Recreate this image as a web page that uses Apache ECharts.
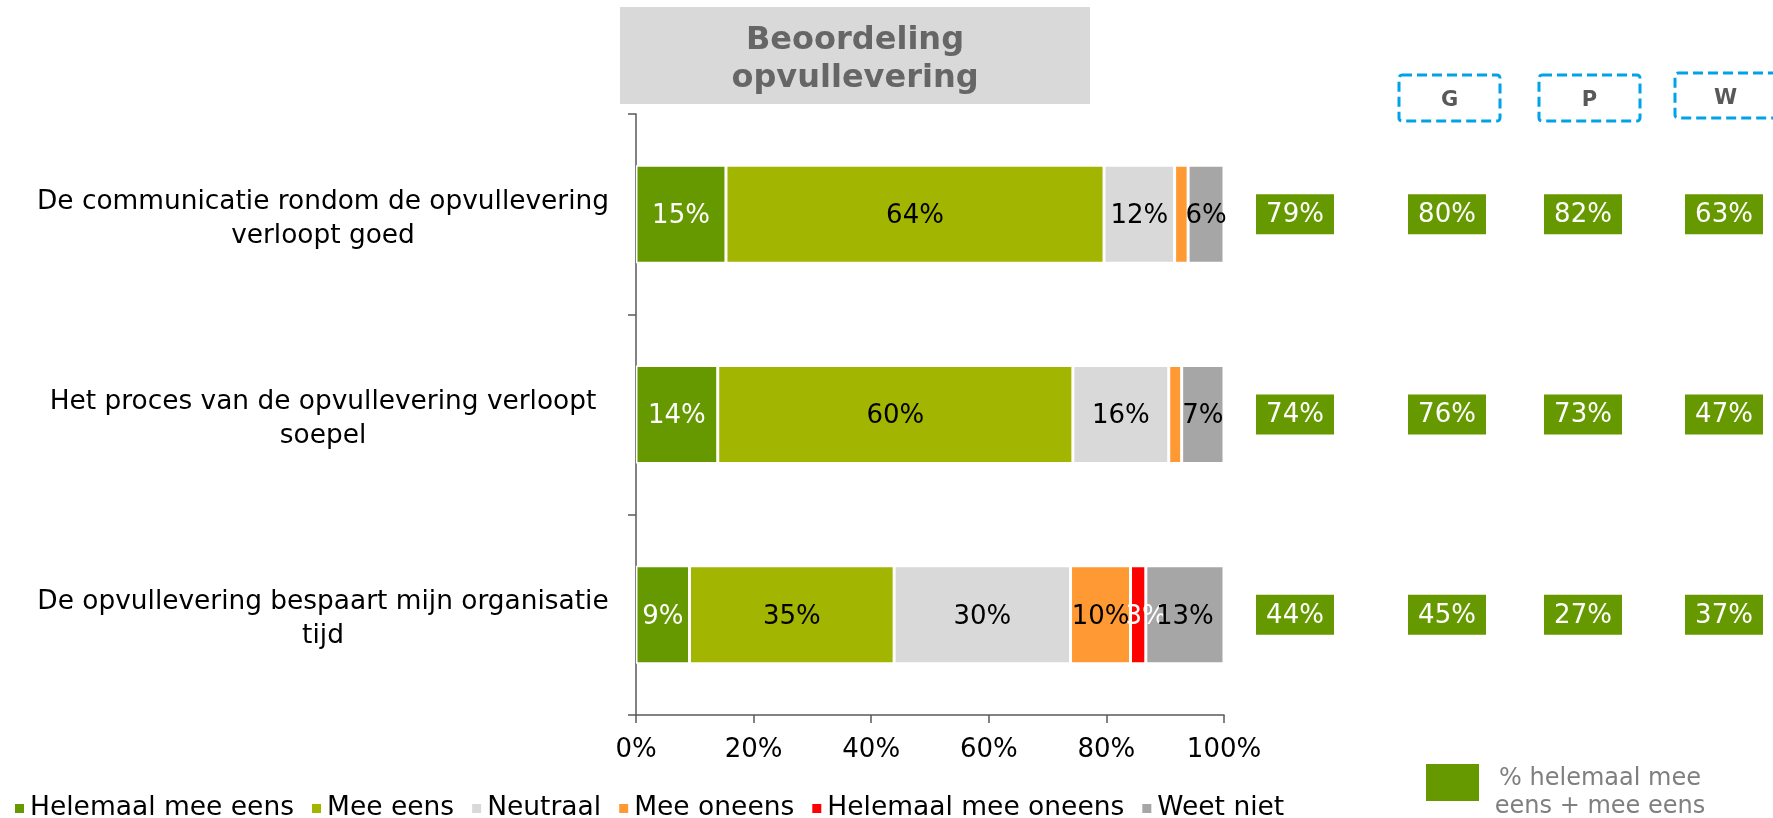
<!DOCTYPE html>
<html>
<head>
<meta charset="utf-8">
<script src="https://cdn.jsdelivr.net/npm/echarts@6/dist/echarts.min.js"></script>
<style>
  html, body { margin: 0; padding: 0; background: #fff; }
  #chart { width: 1773px; height: 818px; }
</style>
</head>
<body>
<div id="chart"></div>
<script>
// stellingen (categorieen, van boven naar beneden)
const statements = [
  "De communicatie rondom de opvullevering\nverloopt goed",
  "Het proces van de opvullevering verloopt\nsoepel",
  "De opvullevering bespaart mijn organisatie\ntijd"
];

// antwoordcategorieen
const answers = ["Helemaal mee eens", "Mee eens", "Neutraal", "Mee oneens", "Helemaal mee oneens", "Weet niet"];

const helemaalMeeEens = [15.3, 13.9, 9.1];
const meeEens = [64.3, 60.4, 34.8];
const neutraal = [12.0, 16.3, 30.0];
const meeOneens = [2.3, 2.2, 10.2];
const helemaalMeeOneens = [0, 0, 2.6];
const weetNiet = [6.1, 7.2, 13.3];

// x-as
const xTicks = [0, 20, 40, 60, 80, 100];

// % helemaal mee eens + mee eens, totaal en per groep
const groups = ["Totaal", "G", "P", "W"];
const agreeTotal = [79, 74, 44];
const agreeG = [80, 76, 45];
const agreeP = [82, 73, 27];
const agreeW = [63, 47, 37];

const FONT = "DejaVu Sans";
const AXIS_COLOR = "#595959";
const GREEN = "#669900";

const answerSeries = [helemaalMeeEens, meeEens, neutraal, meeOneens, helemaalMeeOneens, weetNiet];
const answerColors = ["#669900", "#a2b500", "#d9d9d9", "#ff9933", "#ff0000", "#a6a6a6"];
const labelColors = ["#fff", "#000", "#000", "#000", "#fff", "#000"];

const groupValues = [agreeTotal, agreeG, agreeP, agreeW];
const groupCenters = [1295, 1447, 1583, 1724];

const PLOT_TOP = 114;
const PLOT_H = 601;

const chart = echarts.init(document.getElementById("chart"));

const grids = [{ left: 636, top: PLOT_TOP, width: 588, height: PLOT_H }];
const xAxes = [{
  gridIndex: 0,
  type: "value",
  min: xTicks[0],
  max: xTicks[xTicks.length - 1],
  interval: xTicks[1] - xTicks[0],
  axisLine: { show: true, lineStyle: { color: AXIS_COLOR, width: 1.5 } },
  axisTick: { show: true, length: 8, lineStyle: { color: AXIS_COLOR, width: 1.5 } },
  splitLine: { show: false },
  axisLabel: {
    margin: 22,
    fontFamily: FONT,
    fontSize: 26,
    color: "#000",
    formatter: (v) => v + "%"
  }
}];
const yAxes = [{
  gridIndex: 0,
  type: "category",
  data: statements,
  inverse: true,
  axisLine: { show: true, lineStyle: { color: AXIS_COLOR, width: 1.5 } },
  axisTick: { show: true, length: 8, lineStyle: { color: AXIS_COLOR, width: 1.5 } },
  axisLabel: {
    margin: 313,
    align: "center",
    color: "#000",
    // kleine lege regel bovenaan schuift het blok iets omlaag
    formatter: (v) => "{s| }\n" + v.split("\n").map((l) => "{t|" + l + "}").join("\n"),
    rich: {
      s: { fontSize: 1, lineHeight: 9 },
      t: { fontFamily: FONT, fontSize: 26.4, lineHeight: 34, color: "#000", align: "center" }
    }
  }
}];

const series = answers.map((name, i) => ({
  type: "bar",
  name,
  stack: "totaal",
  barWidth: 98,
  xAxisIndex: 0,
  yAxisIndex: 0,
  data: answerSeries[i],
  itemStyle: { color: answerColors[i], borderColor: "#fff", borderWidth: 1.5 },
  label: {
    show: true,
    position: "inside",
    // smal rood stukje: label staat iets naar rechts, net als in het origineel
    offset: i === 4 ? [8, 2] : [0, 2],
    fontFamily: FONT,
    fontSize: 26,
    color: labelColors[i],
    formatter: (p) => (p.value < 2.5 ? "" : Math.round(p.value) + "%")
  },
  emphasis: { disabled: true }
}));

// kolommen met groene vakjes rechts
groups.forEach((g, k) => {
  const idx = k + 1;
  grids.push({ left: groupCenters[k] - 39, top: PLOT_TOP, width: 78, height: PLOT_H });
  xAxes.push({ gridIndex: idx, type: "category", data: [g], show: false });
  yAxes.push({ gridIndex: idx, type: "category", data: statements, inverse: true, show: false });
  series.push({
    type: "scatter",
    name: g,
    xAxisIndex: idx,
    yAxisIndex: idx,
    symbol: "rect",
    symbolSize: [78, 40],
    data: groupValues[k].map((v, i) => [g, statements[i], v]),
    itemStyle: { color: GREEN, opacity: 1 },
    label: {
      show: true,
      position: "inside",
      offset: [0, 1],
      fontFamily: FONT,
      fontSize: 26,
      color: "#fff",
      formatter: (p) => p.value[2] + "%"
    },
    emphasis: { disabled: true }
  });
});

function dashedHeader(letter, x, y, w, h) {
  return [
    {
      type: "rect",
      shape: { x, y, width: w, height: h, r: 3 },
      style: { fill: "none", stroke: "#00a2e8", lineWidth: 3, lineDash: [10, 5] }
    },
    {
      type: "text",
      x: x + w / 2,
      y: y + h / 2 + 3,
      style: {
        text: letter,
        fill: "#595959",
        fontFamily: FONT,
        fontWeight: "bold",
        fontSize: 21,
        align: "center",
        verticalAlign: "middle"
      }
    }
  ];
}

const graphic = [
  {
    type: "rect",
    shape: { x: 620, y: 7, width: 470, height: 97 },
    style: { fill: "#d9d9d9" }
  },
  {
    type: "text",
    x: 855,
    y: 60,
    style: {
      text: "Beoordeling\nopvullevering",
      fill: "#666666",
      fontFamily: FONT,
      fontWeight: "bold",
      fontSize: 32,
      lineHeight: 38,
      align: "center",
      verticalAlign: "middle"
    }
  },
  ...dashedHeader("G", 1399, 75, 101, 46),
  ...dashedHeader("P", 1539, 75, 101, 46),
  ...dashedHeader("W", 1675, 73, 101, 45),
  {
    type: "rect",
    shape: { x: 1426, y: 764, width: 53, height: 37 },
    style: { fill: GREEN }
  },
  {
    type: "text",
    x: 1600,
    y: 793,
    style: {
      text: "% helemaal mee\neens + mee eens",
      fill: "#7f7f7f",
      fontFamily: FONT,
      fontSize: 24,
      lineHeight: 28,
      align: "center",
      verticalAlign: "middle"
    }
  }
];

chart.setOption({
  animation: false,
  backgroundColor: "#fff",
  grid: grids,
  xAxis: xAxes,
  yAxis: yAxes,
  legend: {
    data: answers,
    left: 13,
    top: 795,
    padding: 0,
    icon: "rect",
    itemWidth: 11,
    itemHeight: 11,
    itemGap: 16,
    selectedMode: false,
    textStyle: { fontFamily: FONT, fontSize: 26.5, color: "#000", padding: [0, 0, 0, 0] }
  },
  graphic,
  series
});

window.addEventListener("resize", () => chart.resize());
</script>
</body>
</html>
